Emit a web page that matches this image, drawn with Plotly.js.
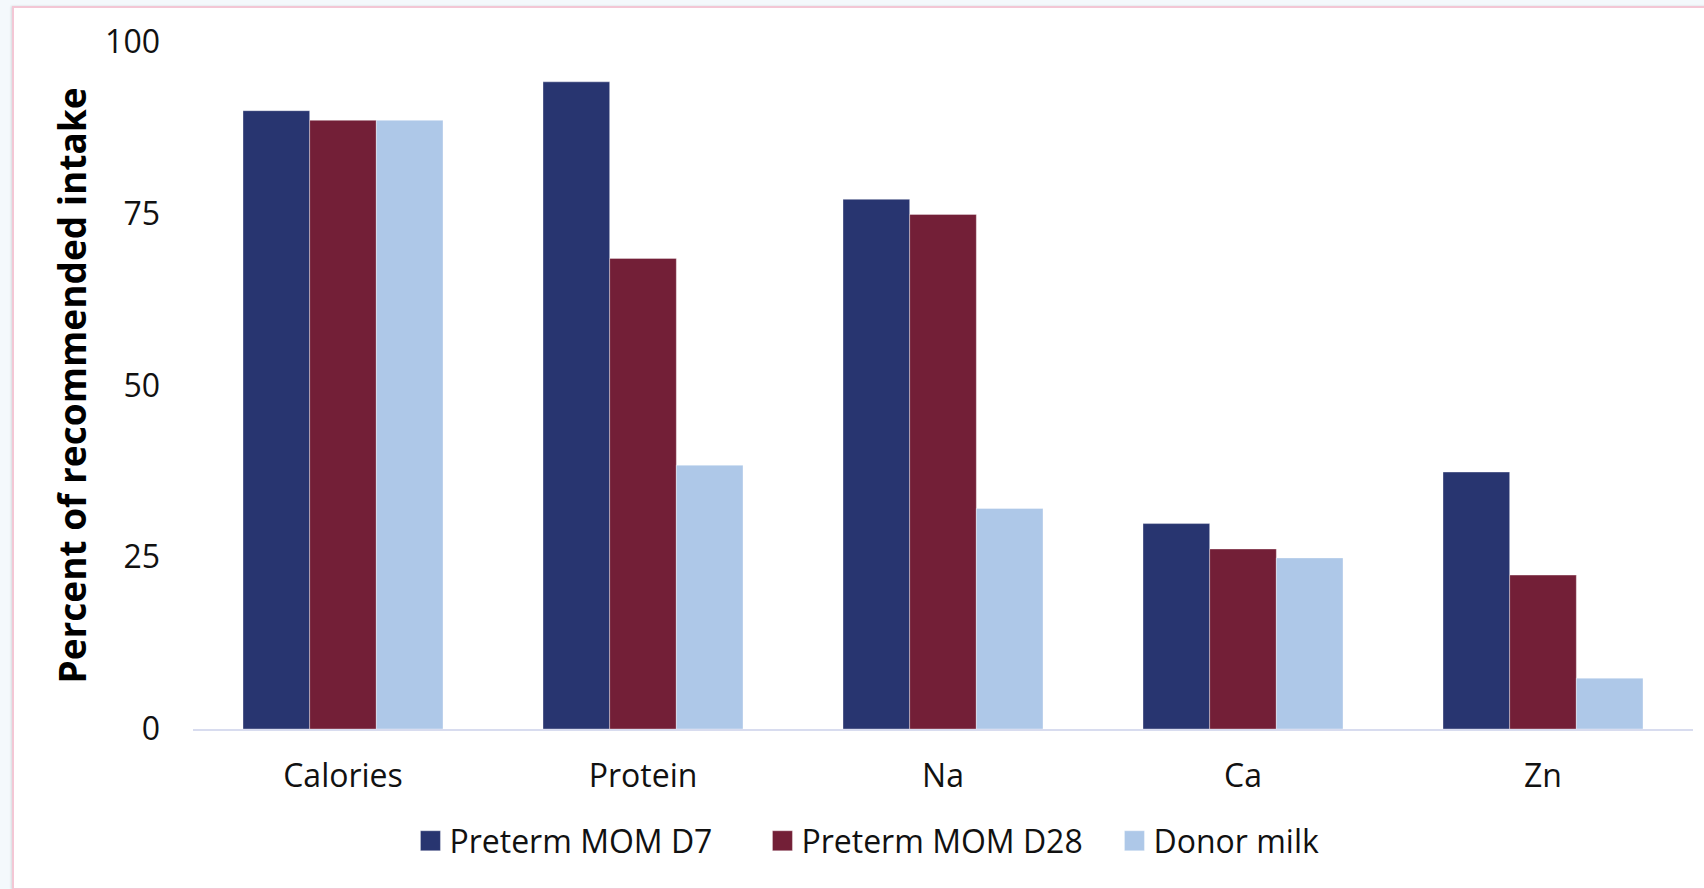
<!DOCTYPE html>
<html>
<head>
<meta charset="utf-8">
<script src="https://cdn.plot.ly/plotly-3.0.1.min.js"></script>
<style>
  body { margin: 0; background: #f4f9fc; }
  #frame {
    position: absolute; left: 12px; top: 6px; width: 1710px; height: 880px;
    background: #ffffff; border: 2px solid #f3c7d5;
    box-shadow: -1px 0 2px rgba(0,0,0,0.12);
  }
  #chart { position: absolute; left: 0; top: 0; width: 1704px; height: 889px; }
</style>
</head>
<body>
<div id="frame"></div>
<div id="chart"></div>
<script>
// nutrients on the x axis
const nutrients = ['Calories', 'Protein', 'Na', 'Ca', 'Zn'];

// percent of recommended intake
const momD7 = [90.0, 94.2, 77.1, 29.9, 37.4];
const momD28 = [88.6, 68.5, 74.9, 26.2, 22.4];
const donorMilk = [88.6, 38.4, 32.1, 24.9, 7.4];

const seriesNames = ['Preterm MOM D7', 'Preterm MOM D28', 'Donor milk'];
const seriesColors = ['#283570', '#731f37', '#aec8e8'];
const yTicks = [0, 25, 50, 75, 100];

const font = 'Open Sans, Noto Sans, sans-serif';

function barTrace(values, i) {
    return {
        x: nutrients,
        y: values,
        type: 'bar',
        name: seriesNames[i],
        marker: {
            color: seriesColors[i],
            line: {color: 'rgba(255,255,255,0.35)', width: 1}
        },
        hoverinfo: 'x+y+name'
    };
}

let data = [momD7, momD28, donorMilk].map(barTrace);

let layout = {
    width: 1704,
    height: 889,
    autosize: false,
    margin: {l: 193, r: 11, t: 42, b: 160, pad: 0},
    paper_bgcolor: 'rgba(0,0,0,0)',
    plot_bgcolor: 'rgba(0,0,0,0)',
    font: {family: font, size: 32, color: '#111111'},
    barmode: 'group',
    bargap: 1 / 3,
    bargroupgap: 0,
    showlegend: true,
    legend: {
        orientation: 'h',
        x: 0.1443,
        xanchor: 'left',
        y: -0.163,
        yanchor: 'middle',
        font: {family: font, size: 32, color: '#111111'},
        entrywidth: 307,
        traceorder: 'normal',
        bgcolor: 'rgba(0,0,0,0)'
    },
    xaxis: {
        type: 'category',
        range: [-0.5, 4.5],
        showgrid: false,
        zeroline: false,
        showline: true,
        linecolor: '#d8dcef',
        linewidth: 2,
        ticks: '',
        ticklabelstandoff: 18,
        tickfont: {family: font, size: 32, color: '#111111'}
    },
    yaxis: {
        range: [0, 100],
        tickvals: yTicks,
        ticktext: yTicks.map(String),
        showgrid: false,
        zeroline: false,
        showline: false,
        ticks: '',
        ticklabelstandoff: 32,
        tickfont: {family: font, size: 32, color: '#111111'},
        title: {
            text: 'Percent of recommended intake',
            standoff: 7,
            font: {family: font, size: 37, color: '#000000', weight: 'bold'}
        }
    }
};

Plotly.newPlot('chart', data, layout, {displayModeBar: false, staticPlot: true}).then(function () {
    // Excel-style legend keys: 20px squares instead of Plotly's 12px ones
    document.querySelectorAll('#chart .legendpoints path').forEach(function (p) {
        p.setAttribute('d', 'M11,10H-9V-10H11Z');
    });
});
</script>
</body>
</html>
